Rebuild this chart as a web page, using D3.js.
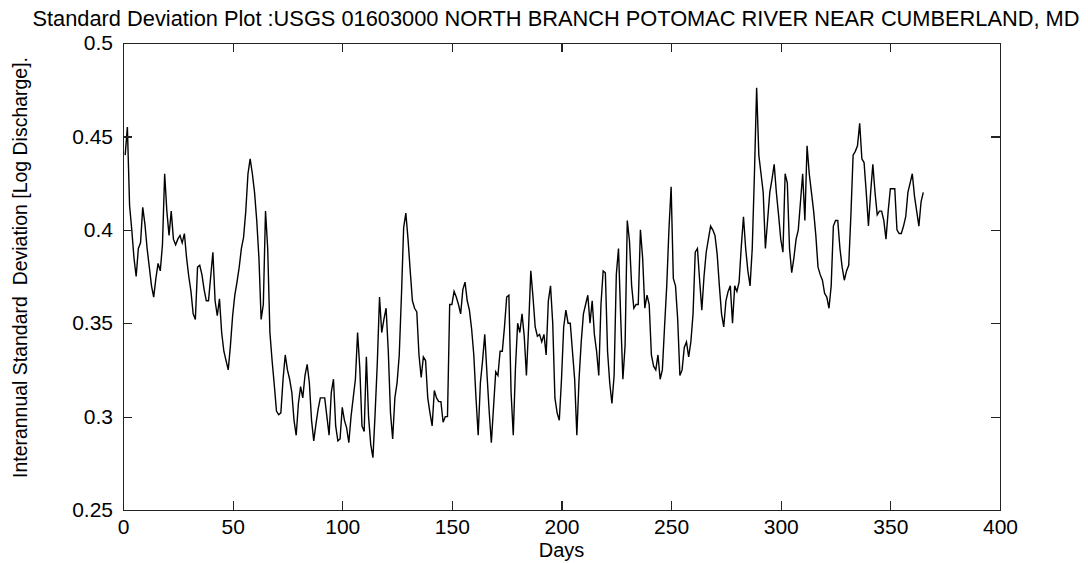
<!DOCTYPE html>
<html>
<head>
<meta charset="utf-8">
<script src="https://cdn.jsdelivr.net/npm/d3@7"></script>
<style>
  html, body { margin: 0; padding: 0; background: #fff; }
  svg { display: block; }
  text { font-family: "Liberation Sans", Arial, sans-serif; fill: #000; }
</style>
</head>
<body>
<svg id="chart" width="1088" height="563"></svg>
<script>
// Interannual standard deviation of log discharge, one value per day of year
const stdDev = [
  0.440,0.455,0.413,0.400,0.385,0.375,0.390,0.393,0.412,0.403,
  0.390,0.380,0.370,0.364,0.374,0.382,0.378,0.392,0.430,0.410,
  0.397,0.410,0.395,0.392,0.395,0.397,0.393,0.398,0.385,0.375,
  0.367,0.355,0.352,0.380,0.381,0.376,0.368,0.362,0.362,0.375,
  0.388,0.362,0.354,0.363,0.345,0.335,0.330,0.325,0.338,0.354,
  0.365,0.372,0.380,0.390,0.396,0.410,0.430,0.438,0.430,0.420,
  0.405,0.385,0.352,0.360,0.410,0.390,0.345,0.330,0.317,0.303,
  0.301,0.302,0.320,0.333,0.325,0.320,0.313,0.298,0.290,0.307,
  0.316,0.310,0.322,0.328,0.318,0.298,0.287,0.296,0.304,0.310,
  0.310,0.310,0.300,0.290,0.313,0.320,0.295,0.287,0.288,0.305,
  0.298,0.294,0.286,0.300,0.310,0.320,0.345,0.326,0.295,0.292,
  0.332,0.300,0.285,0.278,0.302,0.329,0.364,0.345,0.352,0.358,
  0.335,0.302,0.288,0.310,0.318,0.333,0.365,0.401,0.409,0.395,
  0.378,0.362,0.358,0.356,0.333,0.321,0.332,0.330,0.310,0.302,
  0.295,0.314,0.310,0.308,0.308,0.297,0.300,0.300,0.360,0.360,
  0.367,0.364,0.360,0.355,0.368,0.372,0.362,0.357,0.347,0.333,
  0.310,0.290,0.318,0.330,0.344,0.323,0.303,0.286,0.305,0.324,
  0.322,0.335,0.335,0.348,0.364,0.365,0.313,0.290,0.326,0.350,
  0.345,0.355,0.343,0.322,0.348,0.378,0.364,0.348,0.343,0.344,
  0.340,0.344,0.333,0.362,0.370,0.350,0.310,0.302,0.298,0.320,
  0.348,0.357,0.350,0.350,0.335,0.320,0.290,0.320,0.340,0.355,
  0.360,0.365,0.350,0.362,0.344,0.335,0.322,0.360,0.378,0.377,
  0.335,0.318,0.307,0.322,0.376,0.390,0.353,0.320,0.338,0.405,
  0.394,0.370,0.358,0.360,0.360,0.400,0.385,0.358,0.365,0.360,
  0.333,0.327,0.325,0.333,0.320,0.325,0.348,0.370,0.400,0.423,
  0.374,0.370,0.352,0.322,0.325,0.337,0.340,0.332,0.340,0.355,
  0.388,0.390,0.373,0.357,0.375,0.388,0.395,0.402,0.400,0.397,
  0.387,0.370,0.355,0.348,0.362,0.367,0.370,0.350,0.370,0.367,
  0.372,0.391,0.407,0.390,0.378,0.370,0.390,0.430,0.476,0.440,
  0.430,0.420,0.390,0.405,0.420,0.427,0.435,0.420,0.408,0.395,
  0.388,0.430,0.425,0.390,0.377,0.385,0.395,0.400,0.415,0.430,
  0.405,0.445,0.430,0.420,0.410,0.397,0.380,0.376,0.373,0.366,
  0.364,0.358,0.370,0.402,0.405,0.405,0.390,0.380,0.373,0.378,
  0.381,0.408,0.440,0.442,0.445,0.457,0.438,0.436,0.420,0.402,
  0.420,0.435,0.420,0.408,0.410,0.410,0.405,0.395,0.410,0.422,
  0.422,0.422,0.400,0.398,0.398,0.402,0.407,0.420,0.425,0.430,
  0.418,0.410,0.402,0.415,0.420
];
// Day of year for each value (1..365)
const days = stdDev.map((_, i) => i + 1);

const xTicks = [0, 50, 100, 150, 200, 250, 300, 350, 400];
const yTicks = [0.25, 0.3, 0.35, 0.4, 0.45, 0.5];
const yTickLabels = ["0.25", "0.3", "0.35", "0.4", "0.45", "0.5"];

const titleText = "Standard Deviation Plot :USGS 01603000 NORTH BRANCH POTOMAC RIVER NEAR CUMBERLAND, MD";
const xLabelText = "Days";
const yLabelText = "Interannual Standard  Deviation [Log Discharge].";

const W = 1088, H = 563;
const margin = { top: 43, right: 88, bottom: 53, left: 123 };
const iw = W - margin.left - margin.right;
const ih = H - margin.top - margin.bottom;
const tickLen = 9;
const axisColor = "#222";
const fontFamily = '"Liberation Sans", Arial, sans-serif';

const svg = d3.select("#chart");
const g = svg.append("g").attr("transform", `translate(${margin.left},${margin.top})`);

const x = d3.scaleLinear().domain([0, 400]).range([0, iw]);
const y = d3.scaleLinear().domain([0.25, 0.5]).range([ih, 0]);

// data line
const line = d3.line().x((d, i) => x(days[i])).y(d => y(d));
g.append("path")
  .datum(stdDev)
  .attr("d", line)
  .attr("fill", "none")
  .attr("stroke", "#000")
  .attr("stroke-width", 1.4)
  .attr("stroke-linejoin", "miter");

// bottom axis (ticks point inward)
const xAxisB = d3.axisBottom(x).tickValues(xTicks).tickSize(-tickLen).tickPadding(9).tickFormat(d3.format("d"));
const gxb = g.append("g").attr("transform", `translate(0,${ih})`).call(xAxisB);
// top axis, ticks only
const gxt = g.append("g").call(d3.axisTop(x).tickValues(xTicks).tickSize(-tickLen).tickFormat(""));
// left axis
const yAxisL = d3.axisLeft(y).tickValues(yTicks).tickSize(-tickLen).tickPadding(10)
  .tickFormat((d, i) => yTickLabels[i]);
const gyl = g.append("g").call(yAxisL);
// right axis, ticks only
const gyr = g.append("g").attr("transform", `translate(${iw},0)`)
  .call(d3.axisRight(y).tickValues(yTicks).tickSize(-tickLen).tickFormat(""));

[gxb, gxt, gyl, gyr].forEach(a => {
  a.select(".domain").attr("stroke", axisColor).attr("stroke-width", 1.4).attr("shape-rendering", "crispEdges");
  a.selectAll(".tick line").attr("stroke", axisColor).attr("stroke-width", 1.2).attr("shape-rendering", "crispEdges");
  a.selectAll(".tick text").attr("fill", "#000").style("font-family", fontFamily).style("font-size", "21px");
});

// title
svg.append("text")
  .attr("x", 556).attr("y", 26)
  .attr("text-anchor", "middle")
  .style("font-size", "22px")
  .attr("textLength", 1047)
  .attr("lengthAdjust", "spacingAndGlyphs")
  .text(titleText);

// x label
svg.append("text")
  .attr("x", margin.left + iw / 2).attr("y", 557)
  .attr("text-anchor", "middle")
  .style("font-size", "20px")
  .text(xLabelText);

// y label
svg.append("text")
  .attr("transform", `translate(27,${margin.top + ih / 2 - 9}) rotate(-90)`)
  .attr("text-anchor", "middle")
  .attr("xml:space", "preserve")
  .style("white-space", "pre")
  .style("font-size", "21px")
  .attr("textLength", 421)
  .attr("lengthAdjust", "spacingAndGlyphs")
  .text(yLabelText);
</script>
</body>
</html>
